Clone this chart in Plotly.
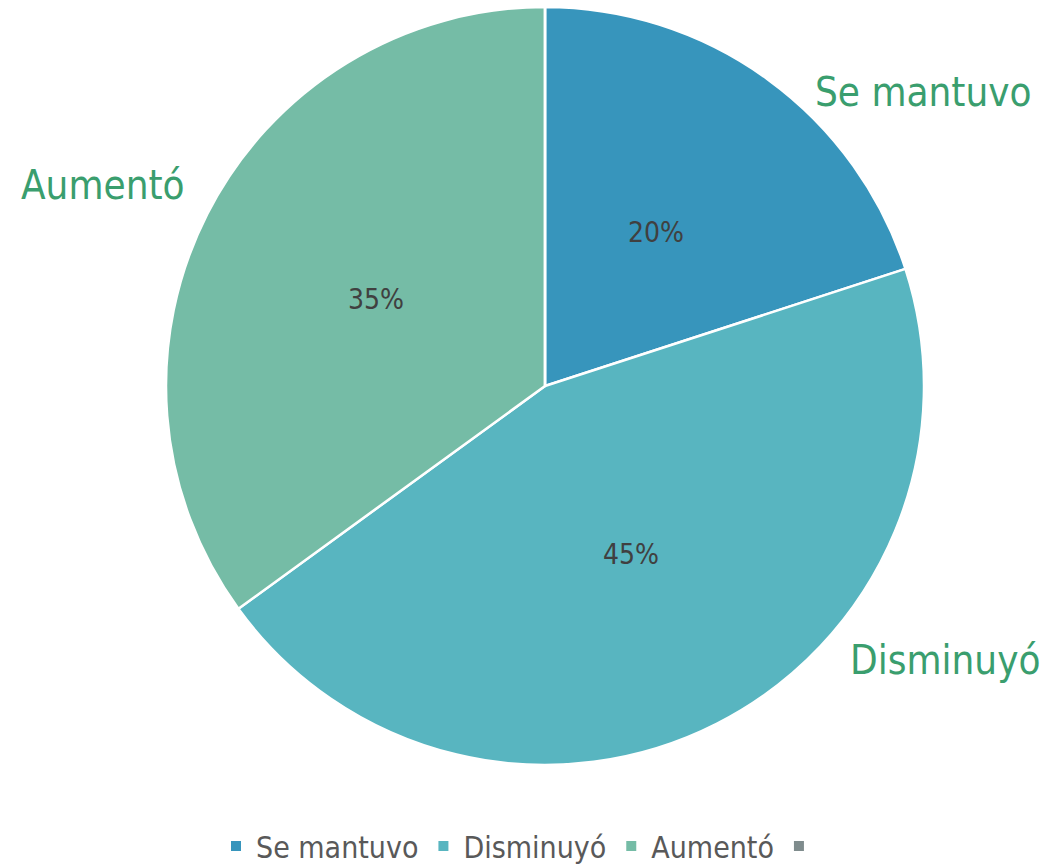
import math
import plotly.graph_objects as go

labels = ["Se mantuvo", "Disminuyó", "Aumentó", " "]
values = [20, 45, 35, 0]
colors = ["#3795BC", "#58B5C0", "#75BCA6", "#7F8C8D"]
outer_labels = ["Se mantuvo", "Disminuyó", "Aumentó"]

W, H = 1049, 868
FONT = "DejaVu Sans Condensed, DejaVu Sans, sans-serif"
CX, CY, R = 545, 386, 379

fig = go.Figure()
fig.add_trace(go.Pie(
    labels=labels, values=values, sort=False, direction="clockwise", rotation=0,
    marker=dict(colors=colors, line=dict(color="white", width=2.5)),
    textinfo="none",
    domain=dict(x=[(CX - R) / W, (CX + R) / W], y=[1 - (CY + R) / H, 1 - (CY - R) / H]),
    hoverinfo="label+percent", showlegend=True,
))

# percentage labels at half radius along each slice's mid-angle
total = sum(values)
cum = 0
for v in values:
    if v <= 0:
        continue
    mid = (cum + v / 2) / total * 2 * math.pi
    cum += v
    px = CX + 0.5 * R * math.sin(mid)
    py = CY - 0.5 * R * math.cos(mid)
    fig.add_annotation(x=px / W, y=1 - py / H, xref="paper", yref="paper",
                       text=f"{round(v / total * 100)}%", showarrow=False,
                       font=dict(color="#404040", size=28, family=FONT),
                       xanchor="center", yanchor="middle")

ann_pos = [(923, 92), (945, 660), (103, 185)]
for txt, (x, y) in zip(outer_labels, ann_pos):
    fig.add_annotation(x=x / W, y=1 - y / H, xref="paper", yref="paper", text=txt,
                       showarrow=False, font=dict(color="#3A9E6E", size=40, family=FONT),
                       xanchor="center", yanchor="middle")

fig.update_layout(
    width=W, height=H, margin=dict(l=0, r=0, t=0, b=0, autoexpand=False),
    paper_bgcolor="white", plot_bgcolor="white",
    legend=dict(orientation="h", x=0.5, xanchor="center", y=1 - 846 / H, yanchor="middle",
                font=dict(size=30, color="#595959", family=FONT), itemsizing="constant",
                traceorder="normal"),
)
fig.write_html("out.html", config={"displayModeBar": False},
               post_script="document.body.style.margin='0';document.body.style.overflow='hidden';")
